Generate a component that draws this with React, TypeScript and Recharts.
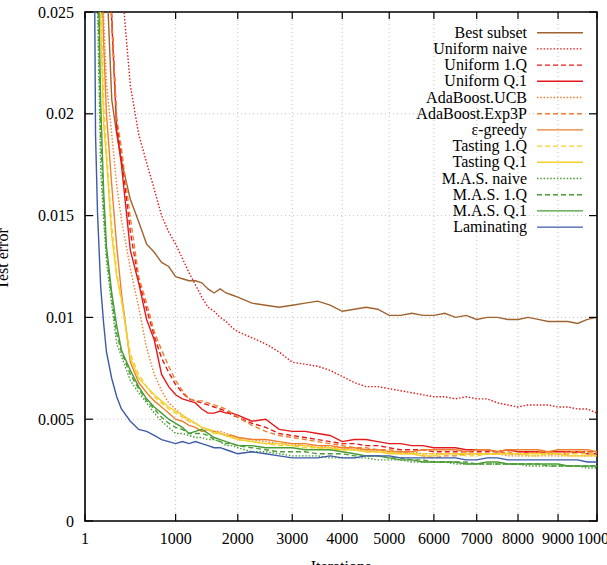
import { LineChart, Line, XAxis, YAxis, CartesianGrid, Legend, ReferenceArea } from 'recharts'

// iterations where the curves are sampled
const ITERATIONS = [
  1, 50, 60, 75, 100, 125, 150, 200, 250, 300, 400, 500, 600, 700, 800, 900, 1000,
  1100, 1200, 1300, 1400, 1500, 1600, 1700, 1800, 1900, 2000,
  2250, 2500, 2750, 3000, 3250, 3500, 3750, 4000, 4250, 4500, 4750, 5000, 5250, 5500, 5750, 6000,
  6250, 6500, 6750, 7000, 7250, 7500, 7750, 8000, 8250, 8500, 8750, 9000, 9250, 9500, 9750, 10000,
]

const BEST_SUBSET = [
  0.3, 0.09, 0.08, 0.06, 0.045, 0.035, 0.027, 0.0207, 0.019, 0.0177, 0.0158, 0.0147, 0.0136, 0.0132, 0.0127, 0.0125, 0.012,
  0.0119, 0.0118, 0.0118, 0.0117, 0.0114, 0.0112, 0.0114, 0.0112, 0.0111, 0.011,
  0.0107, 0.0106, 0.0105, 0.0106, 0.0107, 0.0108, 0.0106, 0.0103, 0.0104, 0.0105, 0.0104, 0.0101, 0.0101, 0.0102, 0.0101, 0.0101,
  0.0102, 0.01, 0.0101, 0.0099, 0.01, 0.01, 0.0099, 0.0099, 0.01, 0.0099, 0.0098, 0.0098, 0.0098, 0.0097, 0.0099, 0.01,
]
const UNIFORM_NAIVE = [
  0.3, 0.1, 0.09, 0.08, 0.065, 0.05, 0.042, 0.034, 0.029, 0.0265, 0.0214, 0.019, 0.0176, 0.0163, 0.015, 0.0142, 0.0136,
  0.0129, 0.0122, 0.0116, 0.011, 0.0105, 0.0103, 0.01, 0.0098, 0.0095, 0.0093,
  0.009, 0.0087, 0.0083, 0.0078, 0.0077, 0.0076, 0.0074, 0.0071, 0.0068, 0.0066, 0.0066, 0.0065, 0.0064, 0.0063, 0.0062, 0.0061,
  0.0061, 0.006, 0.0061, 0.006, 0.006, 0.0058, 0.0057, 0.0056, 0.0057, 0.0057, 0.0057, 0.0056, 0.0056, 0.0055, 0.0055, 0.0053,
]
const UNIFORM_1Q = [
  0.3, 0.08, 0.07, 0.056, 0.043, 0.035, 0.03, 0.0248, 0.0196, 0.018, 0.0142, 0.0118, 0.0104, 0.0091, 0.008, 0.0073, 0.0067,
  0.0063, 0.006, 0.0059, 0.0058, 0.0057, 0.0056, 0.0055, 0.0054, 0.0052, 0.0051,
  0.0048, 0.0046, 0.0043, 0.0042, 0.0041, 0.004, 0.0039, 0.0038, 0.0038, 0.0037, 0.0037, 0.0036, 0.0035, 0.0035, 0.0035, 0.0034,
  0.0034, 0.0034, 0.0034, 0.0034, 0.0034, 0.0034, 0.0033, 0.0033, 0.0034, 0.0034, 0.0033, 0.0033, 0.0033, 0.0034, 0.0034, 0.0034,
]
const UNIFORM_Q1 = [
  0.3, 0.08, 0.07, 0.055, 0.042, 0.034, 0.029, 0.0246, 0.0192, 0.0175, 0.0133, 0.0117, 0.0099, 0.0089, 0.0072, 0.0066, 0.0062,
  0.006, 0.0059, 0.0058, 0.0055, 0.0053, 0.0053, 0.0054, 0.0053, 0.0053, 0.0052,
  0.0049, 0.005, 0.0045, 0.0044, 0.0044, 0.0043, 0.0042, 0.0039, 0.004, 0.004, 0.0039, 0.0038, 0.0038, 0.0037, 0.0037, 0.0036,
  0.0036, 0.0036, 0.0035, 0.0035, 0.0035, 0.0034, 0.0035, 0.0034, 0.0034, 0.0034, 0.0034, 0.0034, 0.0034, 0.0034, 0.0033, 0.0033,
]
const ADA_UCB = [
  0.3, 0.07, 0.055, 0.04, 0.031, 0.0248, 0.0215, 0.019, 0.0165, 0.0148, 0.0124, 0.0105, 0.0085, 0.0072, 0.0064, 0.0058, 0.0055,
  0.0052, 0.0049, 0.0048, 0.0046, 0.0045, 0.0044, 0.0044, 0.0043, 0.0042, 0.0041,
  0.004, 0.0039, 0.0038, 0.0038, 0.0037, 0.0037, 0.0036, 0.0036, 0.0035, 0.0035, 0.0035, 0.0034, 0.0034, 0.0034, 0.0033, 0.0033,
  0.0033, 0.0033, 0.0033, 0.0033, 0.0033, 0.0033, 0.0032, 0.0032, 0.0032, 0.0032, 0.0032, 0.0032, 0.0032, 0.0032, 0.0032, 0.0032,
]
const ADA_EXP3P = [
  0.3, 0.08, 0.07, 0.055, 0.042, 0.034, 0.0295, 0.0245, 0.0198, 0.0183, 0.0149, 0.012, 0.0107, 0.0093, 0.0084, 0.0076, 0.0069,
  0.0064, 0.006, 0.0059, 0.0059, 0.0058, 0.0057, 0.0056, 0.0055, 0.0053, 0.0051,
  0.0047, 0.0044, 0.0042, 0.0041, 0.004, 0.0039, 0.0038, 0.0037, 0.0036, 0.0036, 0.0035, 0.0035, 0.0034, 0.0033, 0.0032, 0.0031,
  0.0032, 0.0032, 0.0033, 0.0033, 0.0033, 0.0033, 0.0034, 0.0033, 0.0033, 0.0034, 0.0034, 0.0033, 0.0034, 0.0034, 0.0034, 0.0034,
]
const EPS_GREEDY = [
  0.3, 0.065, 0.05, 0.038, 0.029, 0.0235, 0.02, 0.0165, 0.0135, 0.0112, 0.0078, 0.0068, 0.0063, 0.0059, 0.0056, 0.0053, 0.005,
  0.0049, 0.0047, 0.0046, 0.0044, 0.0045, 0.0044, 0.0043, 0.0042, 0.0042, 0.0041,
  0.004, 0.004, 0.0039, 0.0038, 0.0038, 0.0037, 0.0037, 0.0036, 0.0036, 0.0035, 0.0035, 0.0034, 0.0034, 0.0034, 0.0035, 0.0035,
  0.0035, 0.0035, 0.0034, 0.0035, 0.0035, 0.0034, 0.0035, 0.0035, 0.0035, 0.0035, 0.0034, 0.0035, 0.0035, 0.0035, 0.0035, 0.0034,
]
const TASTING_1Q = [
  0.3, 0.06, 0.047, 0.034, 0.026, 0.0205, 0.0182, 0.0145, 0.0122, 0.0108, 0.0082, 0.0072, 0.0066, 0.0061, 0.0058, 0.0055, 0.0053,
  0.0051, 0.0049, 0.0048, 0.0046, 0.0045, 0.0044, 0.0043, 0.0042, 0.0041, 0.004,
  0.0039, 0.0038, 0.0037, 0.0037, 0.0036, 0.0036, 0.0035, 0.0035, 0.0035, 0.0034, 0.0034, 0.0034, 0.0033, 0.0033, 0.0033, 0.0033,
  0.0033, 0.0033, 0.0032, 0.0032, 0.0033, 0.0033, 0.0033, 0.0033, 0.0032, 0.0032, 0.0033, 0.0033, 0.0033, 0.0033, 0.0033, 0.0033,
]
const TASTING_Q1 = [
  0.3, 0.06, 0.045, 0.033, 0.0245, 0.0195, 0.0178, 0.014, 0.012, 0.0109, 0.008, 0.007, 0.0066, 0.0062, 0.0059, 0.0056, 0.0054,
  0.0052, 0.005, 0.0048, 0.0046, 0.0045, 0.0043, 0.0043, 0.0042, 0.0041, 0.004,
  0.0039, 0.0038, 0.0038, 0.0037, 0.0037, 0.0036, 0.0036, 0.0035, 0.0035, 0.0034, 0.0034, 0.0033, 0.0033, 0.0033, 0.0032, 0.0032,
  0.0033, 0.0033, 0.0033, 0.0033, 0.0033, 0.0033, 0.0033, 0.0033, 0.0033, 0.0033, 0.0033, 0.0033, 0.0032, 0.0032, 0.0032, 0.0032,
]
const MAS_NAIVE = [
  0.3, 0.045, 0.032, 0.0252, 0.0172, 0.0148, 0.0128, 0.0106, 0.0087, 0.0081, 0.0069, 0.0063, 0.0058, 0.0053, 0.0049, 0.0046, 0.0043,
  0.0043, 0.0042, 0.0041, 0.0041, 0.004, 0.004, 0.0039, 0.0037, 0.0037, 0.0036,
  0.0034, 0.0034, 0.0033, 0.0032, 0.0032, 0.0032, 0.0031, 0.0031, 0.0031, 0.0031, 0.003, 0.003, 0.003, 0.0029, 0.0029, 0.0029,
  0.0029, 0.0028, 0.0028, 0.0028, 0.0028, 0.0028, 0.0028, 0.0028, 0.0027, 0.0027, 0.0027, 0.0027, 0.0027, 0.0027, 0.0026, 0.0026,
]
const MAS_1Q = [
  0.3, 0.048, 0.035, 0.027, 0.019, 0.0155, 0.0132, 0.0109, 0.0092, 0.0083, 0.0072, 0.0065, 0.0059, 0.0055, 0.0051, 0.0048, 0.0046,
  0.0045, 0.0043, 0.0043, 0.0043, 0.0042, 0.004, 0.0039, 0.0038, 0.0038, 0.0037,
  0.0036, 0.0035, 0.0034, 0.0034, 0.0034, 0.0033, 0.0033, 0.0033, 0.0032, 0.0032, 0.0032, 0.0031, 0.0031, 0.003, 0.003, 0.0029,
  0.0029, 0.0029, 0.0029, 0.0028, 0.0028, 0.0028, 0.0028, 0.0028, 0.0028, 0.0028, 0.0027, 0.0027, 0.0027, 0.0027, 0.0027, 0.0027,
]
const MAS_Q1 = [
  0.3, 0.05, 0.037, 0.029, 0.0205, 0.0162, 0.0135, 0.0112, 0.0096, 0.0084, 0.0074, 0.0066, 0.006, 0.0056, 0.0053, 0.005, 0.0048,
  0.0046, 0.0043, 0.0044, 0.0045, 0.0043, 0.0041, 0.004, 0.0039, 0.0038, 0.0037,
  0.0037, 0.0036, 0.0036, 0.0036, 0.0035, 0.0035, 0.0035, 0.0034, 0.0033, 0.0032, 0.0032, 0.0031, 0.003, 0.003, 0.0029, 0.0029,
  0.0029, 0.0029, 0.0028, 0.0028, 0.0029, 0.0029, 0.0028, 0.0028, 0.0028, 0.0028, 0.0028, 0.0028, 0.0027, 0.0027, 0.0027, 0.0027,
]
const LAMINATING = [
  0.3, 0.03, 0.019, 0.0151, 0.0115, 0.0097, 0.0083, 0.007, 0.0061, 0.0055, 0.0049, 0.0045, 0.0044, 0.0042, 0.004, 0.0039, 0.0038,
  0.0039, 0.0038, 0.0039, 0.0038, 0.0037, 0.0036, 0.0036, 0.0035, 0.0034, 0.0033,
  0.0034, 0.0033, 0.0032, 0.0031, 0.0031, 0.0031, 0.0032, 0.0031, 0.0031, 0.0032, 0.0032, 0.0032, 0.0031, 0.0031, 0.0031, 0.0031,
  0.0031, 0.0031, 0.003, 0.003, 0.0031, 0.0031, 0.003, 0.003, 0.003, 0.003, 0.003, 0.003, 0.003, 0.003, 0.0029, 0.0029,
]

const X_TICKS = [1, 1000, 2000, 3000, 4000, 5000, 6000, 7000, 8000, 9000, 10000]
const Y_TICKS = [0, 0.005, 0.01, 0.015, 0.02, 0.025]

const BROWN = '#a0632f'
const RED = '#e41a1c'
const ORANGE = '#f07f2c'
const YELLOW = '#f3d02a'
const GREEN = '#4a9c36'
const BLUE = '#3d5aa8'
const DOTTED = '1.5 1.8'
const DASHED = '5 3'

const SERIES = [
  { key: 'best', name: 'Best subset', values: BEST_SUBSET, color: BROWN, dash: undefined },
  { key: 'uniNaive', name: 'Uniform naive', values: UNIFORM_NAIVE, color: RED, dash: DOTTED },
  { key: 'uni1q', name: 'Uniform 1.Q', values: UNIFORM_1Q, color: RED, dash: DASHED },
  { key: 'uniQ1', name: 'Uniform Q.1', values: UNIFORM_Q1, color: RED, dash: undefined },
  { key: 'ucb', name: 'AdaBoost.UCB', values: ADA_UCB, color: ORANGE, dash: DOTTED },
  { key: 'exp3p', name: 'AdaBoost.Exp3P', values: ADA_EXP3P, color: ORANGE, dash: DASHED },
  { key: 'eps', name: 'ε-greedy', values: EPS_GREEDY, color: ORANGE, dash: undefined },
  { key: 'tast1q', name: 'Tasting 1.Q', values: TASTING_1Q, color: YELLOW, dash: DASHED },
  { key: 'tastQ1', name: 'Tasting Q.1', values: TASTING_Q1, color: YELLOW, dash: undefined },
  { key: 'masNaive', name: 'M.A.S. naive', values: MAS_NAIVE, color: GREEN, dash: DOTTED },
  { key: 'mas1q', name: 'M.A.S. 1.Q', values: MAS_1Q, color: GREEN, dash: DASHED },
  { key: 'masQ1', name: 'M.A.S. Q.1', values: MAS_Q1, color: GREEN, dash: undefined },
  { key: 'lam', name: 'Laminating', values: LAMINATING, color: BLUE, dash: undefined },
]

const rows = ITERATIONS.map((it, i) => {
  const r: Record<string, number> = { it }
  SERIES.forEach(s => { r[s.key] = s.values[i] })
  return r
})

const FONT = '"Liberation Serif", "Times New Roman", serif'
const W = 607
const H = 565
const PLOT_L = 85
const PLOT_R = 597
const PLOT_T = 12
const PLOT_B = 521

// x axis of the original is a power scale (x^0.75)
function powScale(exp: number, dom: number[] = [0, 1], rng: number[] = [0, 1]): any {
  let d = dom.slice()
  let r = rng.slice()
  const t = (v: number) => Math.sign(v) * Math.pow(Math.abs(v), exp)
  const s: any = (v: number) => {
    const a = t(d[0]), b = t(d[1])
    return r[0] + ((t(v) - a) / (b - a)) * (r[1] - r[0])
  }
  s.domain = (nd?: number[]) => { if (nd === undefined) return d.slice(); d = nd.slice(); return s }
  s.range = (nr?: number[]) => { if (nr === undefined) return r.slice(); r = nr.slice(); return s }
  s.copy = () => powScale(exp, d, r)
  s.invert = (px: number) => {
    const a = t(d[0]), b = t(d[1])
    const u = a + ((px - r[0]) / (r[1] - r[0])) * (b - a)
    return Math.sign(u) * Math.pow(Math.abs(u), 1 / exp)
  }
  s.ticks = () => X_TICKS
  s.clamp = () => s
  s.nice = () => s
  return s
}

const xScale = powScale(0.75)

const XTick = ({ x, y, payload }: any) => (
  <g>
    <line x1={x} x2={x} y1={PLOT_B} y2={PLOT_B - 7} stroke="#000" strokeWidth={1.2} />
    <line x1={x} x2={x} y1={PLOT_T} y2={PLOT_T + 7} stroke="#000" strokeWidth={1.2} />
    <text x={x} y={y} dy={11} textAnchor="middle" fontSize={16} fontFamily={FONT} fill="#000">{payload.value}</text>
  </g>
)

const YTick = ({ x, y, payload }: any) => (
  <g>
    <line x1={PLOT_L} x2={PLOT_L + 8} y1={y} y2={y} stroke="#000" strokeWidth={1.2} />
    <line x1={PLOT_R - 8} x2={PLOT_R} y1={y} y2={y} stroke="#000" strokeWidth={1.2} />
    <text x={x} y={y} dy={5.5} textAnchor="end" fontSize={16} fontFamily={FONT} fill="#000">{String(payload.value)}</text>
  </g>
)

const YTitle = () => (
  <text transform="translate(7.5 259) rotate(-90)" textAnchor="middle" fontSize={16} fontFamily={FONT} fill="#000">Test error</text>
)

const LegendBox = () => (
  <svg width={200} height={225}>
    {SERIES.map((s, i) => {
      const cy = 8.7 + i * 16.2
      return (
        <g key={s.key}>
          <text x={127} y={cy + 5} textAnchor="end" fontSize={16} fontFamily={FONT} fill="#000">{s.name}</text>
          <line x1={137} x2={183} y1={cy} y2={cy} stroke={s.color} strokeWidth={1.4} strokeDasharray={s.dash} />
        </g>
      )
    })}
  </svg>
)

export default function App() {
  return (
    <div style={{ position: 'absolute', left: 0, top: 0, width: W, height: H, background: '#fff' }}>
      <LineChart width={W} height={H} data={rows} margin={{ top: PLOT_T, right: W - PLOT_R, bottom: 0, left: 0 }}>
        <CartesianGrid stroke="#c4c4c4" strokeDasharray="1 3" />
        <XAxis
          dataKey="it"
          type="number"
          scale={xScale}
          domain={[1, 10000]}
          ticks={X_TICKS}
          allowDataOverflow
          height={H - PLOT_B}
          axisLine={false}
          tickLine={false}
          tickSize={0}
          tickMargin={12}
          tick={<XTick />}
          interval={0}
          label={{ value: 'Iterations', position: 'insideBottom', offset: -7, fontSize: 16, fontFamily: FONT, fill: '#000' }}
        />
        <YAxis
          type="number"
          domain={[0, 0.025]}
          ticks={Y_TICKS}
          allowDataOverflow
          width={PLOT_L}
          axisLine={false}
          tickLine={false}
          tickSize={0}
          tickMargin={11}
          tick={<YTick />}
          interval={0}
          label={YTitle}
        />
        <ReferenceArea x1={1} x2={10000} y1={0} y2={0.025} fill="none" stroke="#000" strokeWidth={1.6} ifOverflow="visible" />
        {SERIES.map(s => (
          <Line
            key={s.key}
            dataKey={s.key}
            name={s.name}
            stroke={s.color}
            strokeWidth={1.4}
            strokeDasharray={s.dash}
            dot={false}
            type="linear"
            isAnimationActive={false}
          />
        ))}
        <Legend
          layout="vertical"
          align="center"
          verticalAlign="middle"
          wrapperStyle={{ position: 'absolute', left: 400, top: 24, width: 200, height: 225 }}
          content={() => <LegendBox />}
        />
      </LineChart>
    </div>
  )
}
